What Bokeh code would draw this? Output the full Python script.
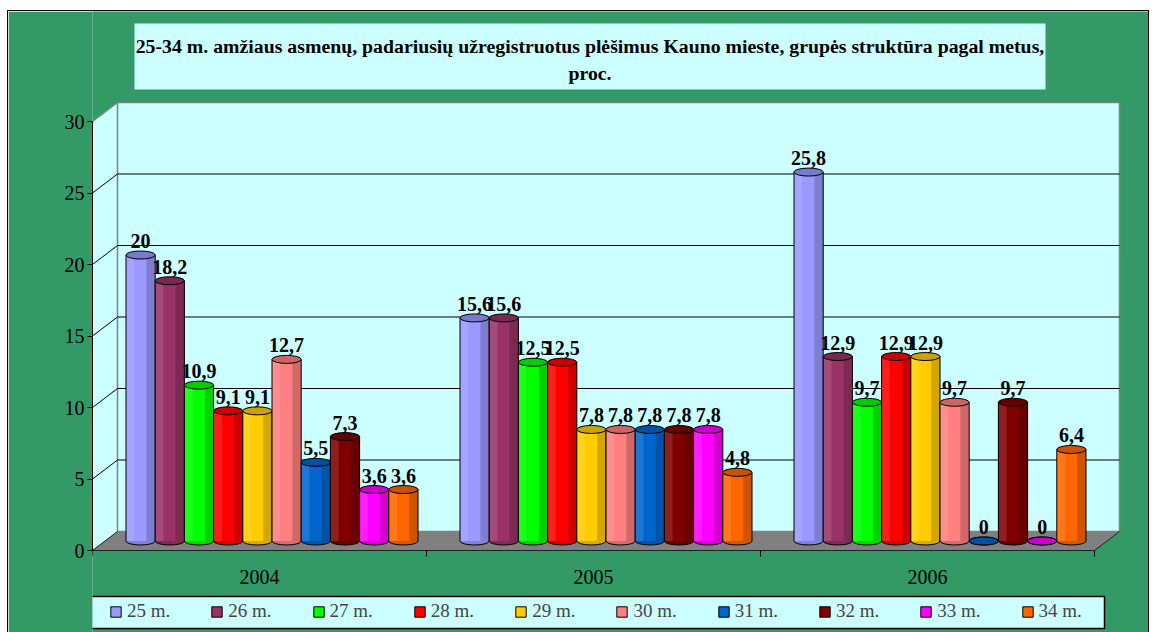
from bokeh.plotting import figure
from bokeh.models import Range1d, FixedTicker, Legend, LegendItem, ColumnDataSource
from bokeh.core.properties import value
from bokeh.embed import file_html
from bokeh.resources import INLINE

# ---------------- data ----------------
years = ["2004", "2005", "2006"]
ages = ["25 m.", "26 m.", "27 m.", "28 m.", "29 m.", "30 m.", "31 m.", "32 m.", "33 m.", "34 m."]
colors = ["#9999FF", "#993366", "#00FF00", "#FF0000", "#FFCC00",
          "#FF8080", "#0066CC", "#800000", "#FF00FF", "#FF6600"]
v2004 = [20, 18.2, 10.9, 9.1, 9.1, 12.7, 5.5, 7.3, 3.6, 3.6]
v2005 = [15.6, 15.6, 12.5, 12.5, 7.8, 7.8, 7.8, 7.8, 7.8, 4.8]
v2006 = [25.8, 12.9, 9.7, 12.9, 12.9, 9.7, 0, 9.7, 0, 6.4]
y_ticks = [0, 5, 10, 15, 20, 25, 30]
title_lines = ["25-34 m. amžiaus asmenų, padariusių užregistruotus plėšimus Kauno mieste, grupės struktūra pagal metus,",
               "proc."]

series = [v2004, v2005, v2006]

# ---------------- styling / geometry ----------------
GREEN = "#339966"
CYAN = "#CCFFFF"
FONT = value("Liberation Serif")
XS = 334.0     # px per year group
YS = 14.3      # px per percent
W, H = 1140, 621
LEFT = 84
ZERO_FROM_TOP = 539.0
x_end = (W - LEFT) / XS
y_top = ZERO_FROM_TOP / YS
y_bot = -(H - ZERO_FROM_TOP) / YS
DX = 25 / XS
DY = 19 / YS
BW = 29.2 / XS
CAP = 8 / YS
NG = len(years)


def px_x(px):
    return px / XS


def px_y(px):
    return px / YS


def shade(hexc, f):
    hexc = hexc.lstrip("#")
    r, g, b = (int(hexc[i:i + 2], 16) for i in (0, 2, 4))
    if f < 1:
        r, g, b = (int(c * f) for c in (r, g, b))
    else:
        t = f - 1
        r, g, b = (int(c + (255 - c) * t) for c in (r, g, b))
    return "#%02x%02x%02x" % (r, g, b)


def fmt(v):
    if float(v).is_integer():
        return str(int(v))
    return ("%.1f" % v).replace(".", ",")


p = figure(width=W, height=H, x_range=Range1d(0, x_end), y_range=Range1d(y_bot, y_top),
           output_backend="svg", toolbar_location=None, x_axis_location=None,
           min_border_left=LEFT, min_border_right=0, min_border_top=0, min_border_bottom=0,
           background_fill_color=GREEN, border_fill_color=GREEN, outline_line_color=None)
p.styles = {"margin-left": "8px", "margin-top": "11px", "outline": "1px solid black"}
p.grid.visible = False

# y axis (front edge of side wall)
ax = p.yaxis[0]
ax.ticker = FixedTicker(ticks=y_ticks)
ax.bounds = (0, 30)
ax.axis_line_color = "black"
ax.major_tick_line_color = "black"
ax.major_tick_out = 5
ax.major_tick_in = 0
ax.minor_tick_line_color = None
ax.major_label_text_font = "Liberation Serif"
ax.major_label_text_font_size = "20px"
ax.major_label_text_color = "black"
ax.major_label_standoff = 3

# side wall and back wall
p.patch([0, 0, DX, DX], [0, 30, 30 + DY, DY], fill_color=CYAN, line_color=None)
p.segment(x0=[0], y0=[30], x1=[DX], y1=[30 + DY], line_color="#808080", line_width=1.5)
p.quad(left=[DX], right=[NG + DX], bottom=[DY], top=[30 + DY],
       fill_color=CYAN, line_color="#808080", line_width=1.5)
grid_v = [t for t in y_ticks if 0 < t < 30]
p.segment(x0=[DX] * len(grid_v), y0=[t + DY for t in grid_v],
          x1=[NG + DX] * len(grid_v), y1=[t + DY for t in grid_v], line_color="black", line_width=1)
p.segment(x0=[0] * len(grid_v), y0=grid_v,
          x1=[DX] * len(grid_v), y1=[t + DY for t in grid_v], line_color="black", line_width=1)

# floor
p.patch([0, NG, NG + DX, DX], [0, 0, DY, DY], fill_color="#808080", line_color=None)
p.segment(x0=[0, NG, 0], y0=[0, 0, 0], x1=[NG, NG + DX, DX], y1=[0, DY, DY],
          line_color="#202020", line_width=1)

# category ticks + labels
gb = list(range(NG + 1))
p.segment(x0=gb, y0=[0] * len(gb), x1=gb, y1=[-px_y(6)] * len(gb), line_color="black")
p.text(x=[g + 0.5 for g in range(NG)], y=[-px_y(26)] * NG, text=years,
       text_font=FONT, text_font_size="20px", text_align="center",
       text_baseline="middle", text_color="black")

# bars (cylinders)
legend_items = []
for i, (age, col) in enumerate(zip(ages, colors)):
    vals = [s[i] for s in series]
    xc = [g + 0.5 + (i - 4.5) * BW + DX / 2 for g in range(NG)]
    tops = [v + DY / 2 for v in vals]
    src = ColumnDataSource(dict(
        x=xc, top=tops, base=[DY / 2] * NG,
        xl=[x - BW * 0.5 + BW * 0.14 for x in xc],
        xr=[x + BW * 0.5 - BW * 0.15 for x in xc],
        xle=[x - BW / 2 for x in xc], xre=[x + BW / 2 for x in xc],
        ly=[t + CAP / 2 + px_y(3) for t in tops],
        lab=[fmt(v) for v in vals]))
    p.ellipse(x="x", y="base", width=BW, height=CAP, source=src,
              fill_color=shade(col, 0.85), line_color="black", line_width=1)
    p.vbar(x="x", bottom="base", top="top", width=BW, source=src,
           fill_color=col, line_color=None)
    p.vbar(x="xl", bottom="base", top="top", width=BW * 0.28, source=src,
           fill_color=shade(col, 1.12), line_color=None)
    p.vbar(x="xr", bottom="base", top="top", width=BW * 0.3, source=src,
           fill_color=shade(col, 0.82), line_color=None)
    p.segment(x0="xle", y0="base", x1="xle", y1="top", source=src, line_color="black", line_width=1)
    p.segment(x0="xre", y0="base", x1="xre", y1="top", source=src, line_color="black", line_width=1)
    p.ellipse(x="x", y="top", width=BW, height=CAP, source=src,
              fill_color=shade(col, 0.8), line_color="black", line_width=1)
    p.text(x="x", y="ly", text="lab", source=src, text_font=FONT, text_font_size="20px",
           text_font_style="bold", text_align="center", text_baseline="bottom", text_color="black")
    # legend swatch renderer (kept outside the visible range)
    dummy = p.vbar(x=[-10], top=[1], width=0.1, fill_color=col, line_color="black", line_width=1)
    legend_items.append(LegendItem(label=age, renderers=[dummy]))

# title box
p.quad(left=[px_x(42)], right=[px_x(953)], bottom=[px_y(550 - 89)], top=[px_y(550 - 23)],
       fill_color=CYAN, line_color=None)
p.text(x=[px_x(589.5 - 92)] * 2, y=[px_y(550 - 45), px_y(550 - 72)], text=title_lines,
       text_font=FONT, text_font_size="19.8px", text_font_style="bold",
       text_align="center", text_baseline="middle", text_color="black")

# legend box
p.quad(left=[px_x(-5)], right=[px_x(1104 - 92)], bottom=[-px_y(628 - 550)], top=[-px_y(596 - 550)],
       fill_color=CYAN, line_color="black", line_width=1.5)

legend = Legend(items=legend_items, orientation="horizontal", location=(17, 10),
                background_fill_alpha=0.0, border_line_color=None,
                label_text_font="Liberation Serif", label_text_font_size="19px",
                glyph_width=13, glyph_height=13, label_standoff=5, spacing=40,
                padding=0, margin=0, label_height=20)
p.add_layout(legend)

open("out.html", "w").write(file_html(p, INLINE))
